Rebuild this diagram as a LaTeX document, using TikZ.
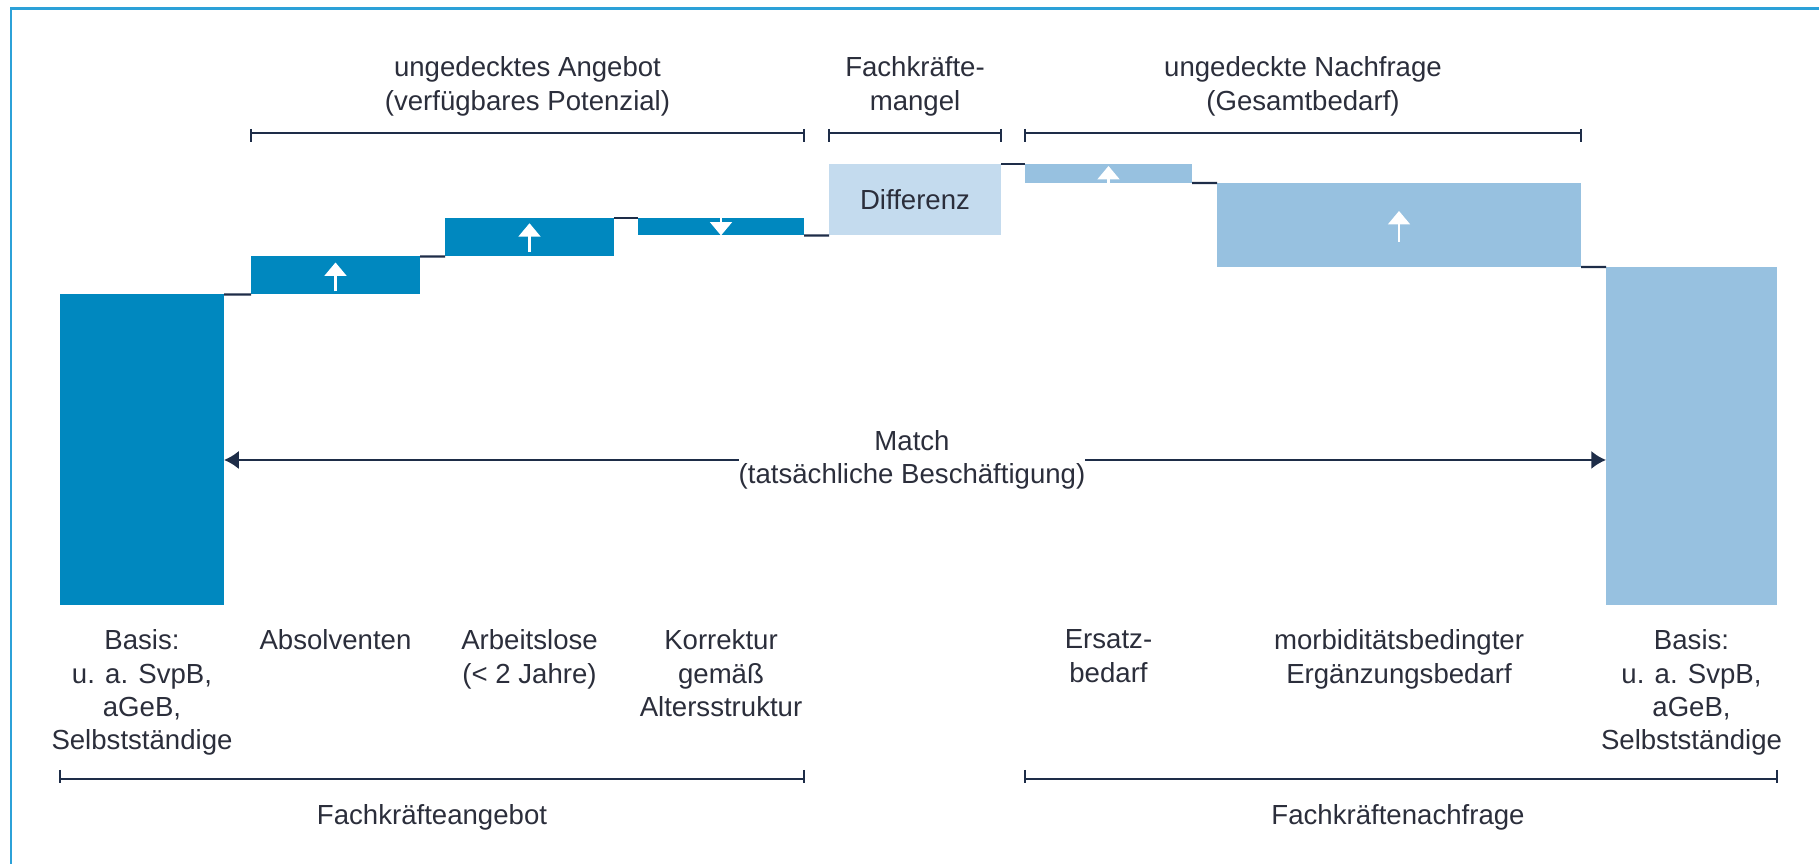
\documentclass[tikz,border=0pt]{standalone}
\usepackage{fontspec}
\setmainfont{Liberation Sans}
\usetikzlibrary{arrows.meta}

\definecolor{dunkelblau}{RGB}{0,136,191}
\definecolor{hellblau}{RGB}{151,193,224}
\definecolor{blassblau}{RGB}{196,219,238}
\definecolor{navy}{RGB}{30,45,72}
\definecolor{schrift}{RGB}{43,46,59}
\definecolor{rahmenblau}{RGB}{44,161,216}

\begin{document}
\begin{tikzpicture}[
    font=\fontsize{7.85}{9.4}\selectfont,
    every node/.style={text=schrift, inner sep=0pt, outer sep=0pt},
    balken/.style={fill=#1},
    beschr/.style={anchor=north, align=center},
    linie/.style={draw=navy, line width=0.65pt},
    pfeil/.style={linie, -{Latex[width=5.2pt,length=4.2pt]}},
    weisspfeil/.style={draw=white, line width=0.6pt, -{Triangle[width=6.2pt,length=3.8pt]}}]

    \useasboundingbox (0,0) rectangle (18.19,8.64);
    \draw[rahmenblau, line width=0.85pt] (0.11,0) -- (0.11,8.55) -- (18.19,8.55);

    % Balken
    \node[balken=dunkelblau, minimum width=1.64cm, minimum height=3.105cm] (basisL) at (1.42,4.1425) {};
    \node[balken=dunkelblau, minimum width=1.69cm, minimum height=0.38cm] (absol) at (3.355,5.885) {};
    \node[balken=dunkelblau, minimum width=1.69cm, minimum height=0.385cm] (arbeit) at (5.295,6.2675) {};
    \node[balken=dunkelblau, minimum width=1.66cm, minimum height=0.175cm] (korr) at (7.21,6.3725) {};
    \node[balken=blassblau, minimum width=1.72cm, minimum height=0.715cm] (diff) at (9.15,6.6425) {Differenz};
    \node[balken=hellblau, minimum width=1.67cm, minimum height=0.19cm] (ersatz) at (11.085,6.905) {};
    \node[balken=hellblau, minimum width=3.64cm, minimum height=0.84cm] (morb) at (13.99,6.39) {};
    \node[balken=hellblau, minimum width=1.71cm, minimum height=3.38cm] (basisR) at (16.915,4.28) {};

    % Stufen
    \draw[linie] (basisL.north east) -- (absol.south west);
    \draw[linie] (absol.north east) -- (arbeit.south west);
    \draw[linie] (arbeit.north east) -- (korr.north west);
    \draw[linie] (korr.south east) -- (diff.south west);
    \draw[linie] (diff.north east) -- (ersatz.north west);
    \draw[linie] (ersatz.south east) -- (morb.north west);
    \draw[linie] (morb.south east) -- (basisR.north west);

    % Pfeile in den Balken
    \draw[weisspfeil] ([yshift=-0.16cm]absol.center) -- ++(0,0.29);
    \draw[weisspfeil] ([yshift=-0.15cm]arbeit.center) -- ++(0,0.29);
    \draw[weisspfeil] (korr.north) -- (korr.south);
    \draw[weisspfeil] (ersatz.south) -- ++(0,0.17);
    \draw[weisspfeil] ([yshift=-0.17cm]morb.center) -- ++(0,0.31);

    % Klammern oben
    \foreach \l/\r in {absol/korr, diff/diff, ersatz/morb}
        \draw[linie] (\l.west |- 0,7.35) -- (\l.west |- 0,7.22)
            (\l.west |- 0,7.313) -- (\r.east |- 0,7.313)
            (\r.east |- 0,7.35) -- (\r.east |- 0,7.22);

    \node[beschr] (angebot) at (5.275,8.07) {ungedecktes Angebot\\(verfügbares Potenzial)};
    \node[beschr] (mangel) at (9.15,8.07) {Fachkräfte-\\mangel};
    \node[beschr] (nachfrage) at (13.03,8.07) {ungedeckte Nachfrage\\(Gesamtbedarf)};

    % Match
    \node[align=center] (match) at (9.12,4.04) {Match\\(tatsächliche Beschäftigung)};
    \draw[pfeil] (match) -- (match -| basisL.east);
    \draw[pfeil] (match) -- (match -| basisR.west);

    % Beschriftung unten
    \node[beschr] (lblBasisL) at (basisL |- 0,2.34) {Basis:\\u. a. SvpB,\\aGeB,\\Selbstständige};
    \node[beschr] (lblAbsol) at (absol |- 0,2.34) {Absolventen};
    \node[beschr] (lblArbeit) at (arbeit |- 0,2.34) {Arbeitslose\\(< 2 Jahre)};
    \node[beschr] (lblKorr) at (korr |- 0,2.34) {Korrektur\\gemäß\\Altersstruktur};
    \node[beschr] (lblErsatz) at (ersatz |- 0,2.34) {Ersatz-\\bedarf};
    \node[beschr] (lblMorb) at (morb |- 0,2.34) {morbiditätsbedingter\\Ergänzungsbedarf};
    \node[beschr] (lblBasisR) at (basisR |- 0,2.34) {Basis:\\u. a. SvpB,\\aGeB,\\Selbstständige};

    % Klammern unten
    \foreach \l/\r in {basisL/korr, ersatz/basisR}
        \draw[linie] (\l.west |- 0,0.94) -- (\l.west |- 0,0.807)
            (\l.west |- 0,0.85) -- (\r.east |- 0,0.85)
            (\r.east |- 0,0.94) -- (\r.east |- 0,0.807);

    \node[beschr] (fkAngebot) at (4.32,0.59) {Fachkräfteangebot};
    \node[beschr] (fkNachfrage) at (13.98,0.59) {Fachkräftenachfrage};
\end{tikzpicture}
\end{document}
